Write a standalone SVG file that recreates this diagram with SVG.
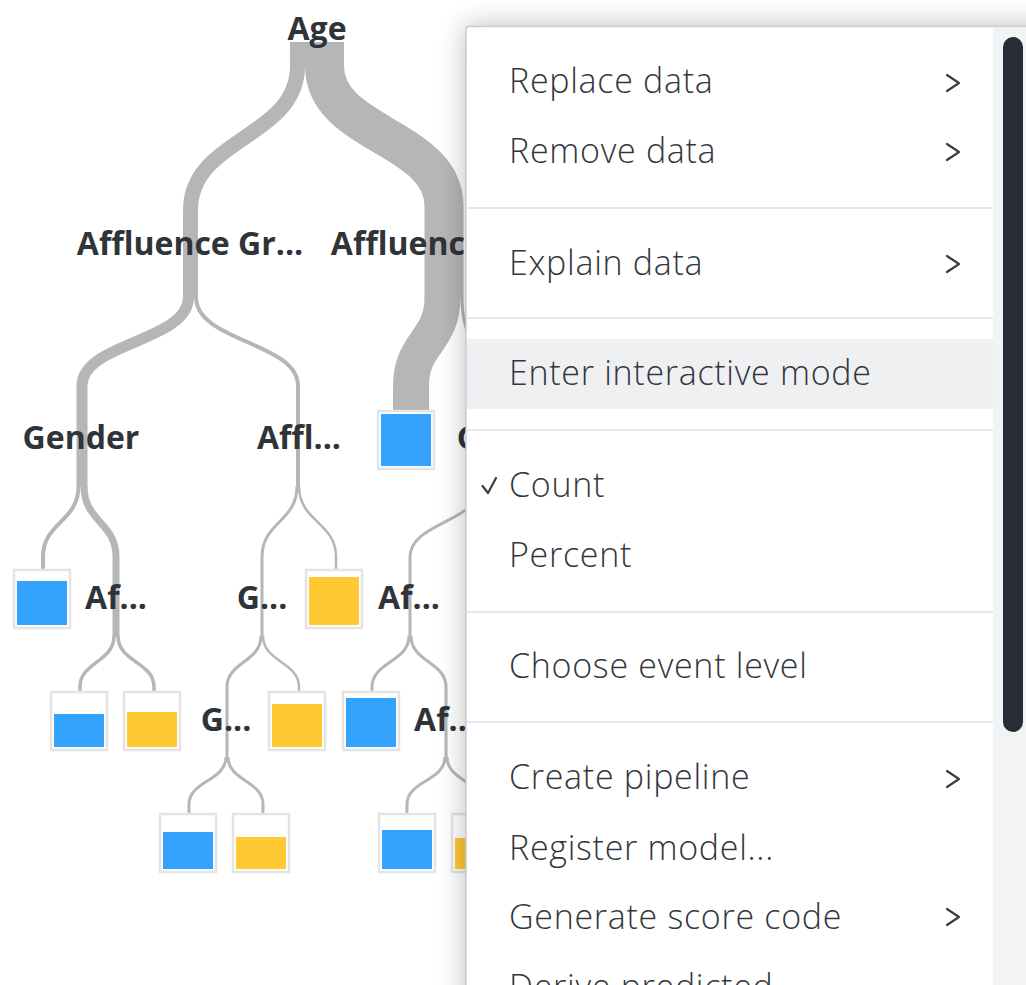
<svg xmlns="http://www.w3.org/2000/svg" width="1026" height="985" viewBox="0 0 1026 985">
  <style>
    .link { fill: none; stroke: #b6b6b6; stroke-linecap: butt; }
    .label { font-family: "Open Sans", "Liberation Sans", sans-serif; font-weight: 700; font-size: 32px; fill: #2f3439; text-anchor: middle; }
    .box { fill: #ffffff; stroke: #e4e4e4; stroke-width: 2.5; }
    .blue { fill: #34a3fe; }
    .yellow { fill: #ffc933; }
    .item { font-family: "Open Sans", "Liberation Sans", sans-serif; font-weight: 350; font-size: 34px; letter-spacing: 0.7px; fill: #33373d; }
    .chev { fill: none; stroke: #3a3e44; stroke-width: 2.2; stroke-linecap: round; stroke-linejoin: round; }
    .sep { stroke: #dde1e6; stroke-width: 1.6; }
  </style>
  <defs>
    <filter id="soft" filterUnits="userSpaceOnUse" x="300" y="-150" width="900" height="1300">
      <feGaussianBlur stdDeviation="14"/>
    </filter>
    <!-- the tree is drawn only left of the menu edge -->
    <clipPath id="treeArea">
      <rect x="0" y="0" width="466" height="985"/>
    </clipPath>
  </defs>

  <rect width="1026" height="985" fill="#ffffff"/>

  <g id="tree" clip-path="url(#treeArea)">
    <!-- tree flows -->
    <g id="connectors">
      <path class="link" stroke-width="15" d="M297.5 42 L297.5 66 C297.5 138 190.5 138 190.5 210 L190.5 298"/>
      <path class="link" stroke-width="39" d="M324.5 42 L324.5 66 C324.5 136 444 136 444 206 L444 298"/>

      <path class="link" stroke-width="11" d="M188.5 297 C188.5 342 82 342 82 386 L82 487"/>
      <path class="link" stroke-width="4" d="M196 297 C196 342 298 342 298 386 L298 487"/>
      <path class="link" stroke-width="36" d="M442.5 297 C442.5 342 411 342 411 386 L411 413"/>
      <path class="link" stroke-width="3" d="M462 297 C462 342 481 342 481 386 L481 487"/>

      <path class="link" stroke-width="4" d="M78.5 486 C78.5 522 43 522 43 557 L43 571"/>
      <path class="link" stroke-width="7" d="M84 486 C84 522 116 522 116 557 L116 637"/>
      <path class="link" stroke-width="3" d="M297 486 C297 522 262 522 262 557 L262 637"/>
      <path class="link" stroke-width="2.5" d="M299 486 C299 522 336 522 336 557 L336 571"/>
      <path class="link" stroke-width="3" d="M480 486 C480 522 410 522 410 557 L410 637"/>

      <path class="link" stroke-width="3.5" d="M114 636 C114 662 80 662 80 687 L80 693"/>
      <path class="link" stroke-width="3.5" d="M118 636 C118 662 154 662 154 687 L154 693"/>
      <path class="link" stroke-width="3" d="M261 636 C261 662 227 662 227 687 L227 758"/>
      <path class="link" stroke-width="2.5" d="M263 636 C263 662 299 662 299 687 L299 693"/>
      <path class="link" stroke-width="3" d="M409 636 C409 662 372 662 372 687 L372 693"/>
      <path class="link" stroke-width="3" d="M411 636 C411 662 446 662 446 687 L446 758"/>

      <path class="link" stroke-width="3" d="M226 757 C226 781 189 781 189 804 L189 815"/>
      <path class="link" stroke-width="3" d="M228 757 C228 781 263 781 263 804 L263 815"/>
      <path class="link" stroke-width="3" d="M445 757 C445 781 407 781 407 804 L407 815"/>
      <path class="link" stroke-width="3" d="M447 757 C447 781 482 781 482 804 L482 815"/>
    </g>

    <!-- split nodes -->
    <g id="n-age"><text class="label" x="317" y="40">Age</text></g>
    <g id="n-aff-left"><text class="label" x="190" y="255">Affluence Gr...</text></g>
    <g id="n-aff-right"><text class="label" x="444" y="255">Affluence Gr...</text></g>
    <g id="n-gender"><text class="label" x="81" y="449">Gender</text></g>
    <g id="n-affl"><text class="label" x="299" y="449">Affl...</text></g>
    <g id="n-g-right"><text class="label" x="482" y="449">G...</text></g>
    <g id="n-af-1"><text class="label" x="116" y="609">Af...</text></g>
    <g id="n-g-1"><text class="label" x="262" y="609">G...</text></g>
    <g id="n-af-2"><text class="label" x="409" y="609">Af...</text></g>
    <g id="n-g-2"><text class="label" x="226" y="731">G...</text></g>
    <g id="n-af-3"><text class="label" x="445" y="731">Af...</text></g>

    <!-- leaf nodes -->
    <g id="leaf-1"><rect class="box" x="378" y="411" width="56" height="58"/><rect class="blue" x="381" y="414" width="50" height="52"/></g>
    <g id="leaf-2"><rect class="box" x="14" y="570" width="56" height="58"/><rect class="blue" x="17" y="581" width="50" height="44"/></g>
    <g id="leaf-3"><rect class="box" x="306" y="570" width="56" height="58"/><rect class="yellow" x="309" y="577" width="50" height="48"/></g>
    <g id="leaf-4"><rect class="box" x="51" y="692" width="56" height="58"/><rect class="blue" x="54" y="714" width="50" height="33"/></g>
    <g id="leaf-5"><rect class="box" x="124" y="692" width="56" height="58"/><rect class="yellow" x="127" y="712" width="50" height="35"/></g>
    <g id="leaf-6"><rect class="box" x="269" y="692" width="56" height="58"/><rect class="yellow" x="272" y="704" width="50" height="43"/></g>
    <g id="leaf-7"><rect class="box" x="343" y="692" width="56" height="58"/><rect class="blue" x="346" y="698" width="50" height="49"/></g>
    <g id="leaf-8"><rect class="box" x="160" y="814" width="56" height="58"/><rect class="blue" x="163" y="832" width="50" height="37"/></g>
    <g id="leaf-9"><rect class="box" x="233" y="814" width="56" height="58"/><rect class="yellow" x="236" y="837" width="50" height="32"/></g>
    <g id="leaf-10"><rect class="box" x="379" y="814" width="56" height="58"/><rect class="blue" x="382" y="830" width="50" height="39"/></g>
    <g id="leaf-11"><rect class="box" x="452" y="814" width="56" height="58"/><rect class="yellow" x="455" y="838" width="50" height="31"/></g>
  </g>

  <!-- context menu -->
  <g id="context-menu">
    <rect x="466" y="26" width="620" height="1010" fill="#000" opacity="0.28" filter="url(#soft)"/>
    <rect x="466" y="26.5" width="600" height="1000" rx="3" fill="#ffffff" stroke="#c8cdd5" stroke-width="1.5"/>
    <rect x="993" y="27.3" width="33" height="960" fill="#f2f3f5"/>
    <rect x="1003" y="37" width="20" height="695" rx="10" fill="#272d35"/>
    <rect x="467" y="339" width="526" height="70" fill="#eff0f2"/>

    <line class="sep" x1="467" y1="208" x2="993" y2="208"/>
    <line class="sep" x1="467" y1="318" x2="993" y2="318"/>
    <line class="sep" x1="467" y1="430" x2="993" y2="430"/>
    <line class="sep" x1="467" y1="612" x2="993" y2="612"/>
    <line class="sep" x1="467" y1="722" x2="993" y2="722"/>

    <text class="item" x="509" y="93">Replace data</text>
    <polyline class="chev" points="947,75 959,83 947,91"/>
    <text class="item" x="509" y="163">Remove data</text>
    <polyline class="chev" points="947,144 959,152 947,160"/>
    <text class="item" x="509" y="275">Explain data</text>
    <polyline class="chev" points="947,256 959,264 947,272"/>
    <text class="item" x="509" y="385">Enter interactive mode</text>
    <polyline class="chev" points="482.5,486 488,493 496,478"/>
    <text class="item" x="509" y="497">Count</text>
    <text class="item" x="509" y="567">Percent</text>
    <text class="item" x="509" y="678">Choose event level</text>
    <text class="item" x="509" y="789">Create pipeline</text>
    <polyline class="chev" points="947,771 959,779 947,787"/>
    <text class="item" x="509" y="860">Register model...</text>
    <text class="item" x="509" y="929">Generate score code</text>
    <polyline class="chev" points="947,909 959,917 947,925"/>
    <text class="item" x="509" y="999">Derive predicted</text>
  </g>
</svg>
